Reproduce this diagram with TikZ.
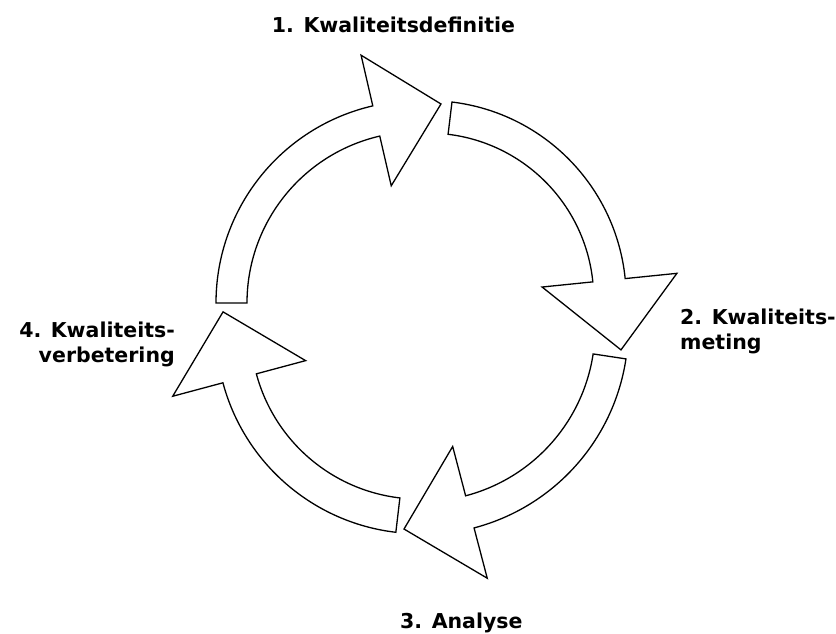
\documentclass[tikz,border=0pt]{standalone}
\usepackage{fontspec}
\setsansfont{DejaVu Sans}
\usetikzlibrary{calc}

\begin{document}
\begin{tikzpicture}[x=1pt,y=1pt,
    cyclearrow/.style={draw=black, fill=white, line width=1.3pt, line join=miter},
    steplabel/.style={font=\sffamily\bfseries\fontsize{20.5}{25}\selectfont, inner sep=0pt}]
  \useasboundingbox (0,0) rectangle (836,634);

  % centre, outer/inner radius, tail angle, shoulder angle, tip angle, tip radius
  \foreach \cx/\cy/\R/\r/\a/\b/\t/\rt in {%
      418.3/331.0/202.3/171.3/180/103/83.5/200.3,
      428.2/335.4/198.0/165.5/83.1/5.8/-14.9/199.5,
      421.6/306.0/206.7/173.5/-8.6/-75.3/-95.0/201.8,
      419.6/303.9/203.6/169.0/263.3/195.0/174.7/197.4}
  {
    \draw[cyclearrow] ($(\cx,\cy)+(\a:\R)$) arc[start angle=\a, end angle=\b, radius=\R]
      -- ($(\cx,\cy)+(\b:\R+52)$) -- ($(\cx,\cy)+(\t:\rt)$) -- ($(\cx,\cy)+(\b:\r-51)$)
      -- ($(\cx,\cy)+(\b:\r)$) arc[start angle=\b, end angle=\a, radius=\r] -- cycle;
  }

  \node[steplabel, anchor=base] (kdef) at (393.5,601) {1. Kwaliteitsdefinitie};
  \node[steplabel, anchor=base west, align=left] (kmeet) at (680,284) {2. Kwaliteits-\\meting};
  \node[steplabel, anchor=base west] (analyse) at (400,5) {3. Analyse};
  \node[steplabel, anchor=base east, align=right] (kverb) at (175,271) {4. Kwaliteits-\\verbetering};
\end{tikzpicture}
\end{document}
